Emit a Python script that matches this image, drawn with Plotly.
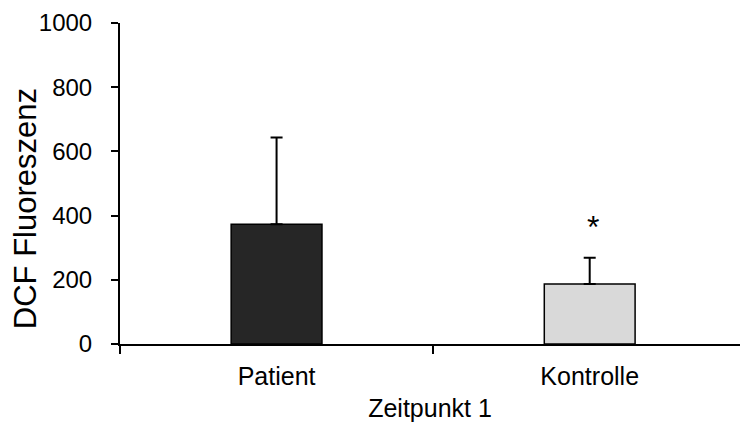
import plotly.graph_objects as go

# Mean DCF fluorescence at time point 1 with upper standard deviation
categories = ["Patient", "Kontrolle"]
means = [373, 187]
sd_upper = [270, 82]
bar_colors = ["#262626", "#d9d9d9"]
y_ticks = [0, 200, 400, 600, 800, 1000]
significance = ["", "*"]

x_pos = list(range(len(categories)))

fig = go.Figure()
fig.add_trace(go.Bar(
    x=x_pos,
    y=means,
    width=0.29,
    marker=dict(color=bar_colors, line=dict(color="black", width=1.5)),
    error_y=dict(type="data", symmetric=False, array=sd_upper,
                 arrayminus=[0] * len(means),
                 color="black", thickness=2, width=6),
    showlegend=False,
))

# significance marks above the error bars
for xi, m, s, mark in zip(x_pos, means, sd_upper, significance):
    if mark:
        fig.add_annotation(x=xi, y=m + s + 95, text=mark, showarrow=False,
                           xshift=3, font=dict(size=32, color="black"))

# y-axis title
fig.add_annotation(x=0, y=0.42, xref="paper", yref="paper", xanchor="center",
                   yanchor="middle", xshift=-95, text="DCF Fluoreszenz",
                   textangle=-90, showarrow=False,
                   font=dict(size=31, color="black"))

font_family = "Liberation Sans, Arial, sans-serif"
fig.update_layout(
    width=740, height=428,
    margin=dict(l=120, r=0, t=23, b=84),
    plot_bgcolor="white", paper_bgcolor="white",
    font=dict(family=font_family, color="black"),
    xaxis=dict(
        range=[-0.5, 1.48],
        tickvals=x_pos, ticktext=categories, ticks="",
        tickfont=dict(size=25),
        showline=True, linecolor="black", linewidth=2,
        showgrid=False, zeroline=False,
        minor=dict(ticks="outside", tick0=-0.5, dtick=1, ticklen=8,
                   tickwidth=2, tickcolor="black", showgrid=False),
        title=dict(text="Zeitpunkt 1", font=dict(size=25), standoff=10),
        ticklabelstandoff=9,
    ),
    yaxis=dict(
        range=[0, 1000],
        tickvals=y_ticks,
        ticks="outside", ticklen=7, tickwidth=2, tickcolor="black",
        tickfont=dict(size=24),
        showline=True, linecolor="black", linewidth=2,
        showgrid=False, zeroline=False,
        ticklabelstandoff=14,
    ),
)

fig.write_html("out.html")
